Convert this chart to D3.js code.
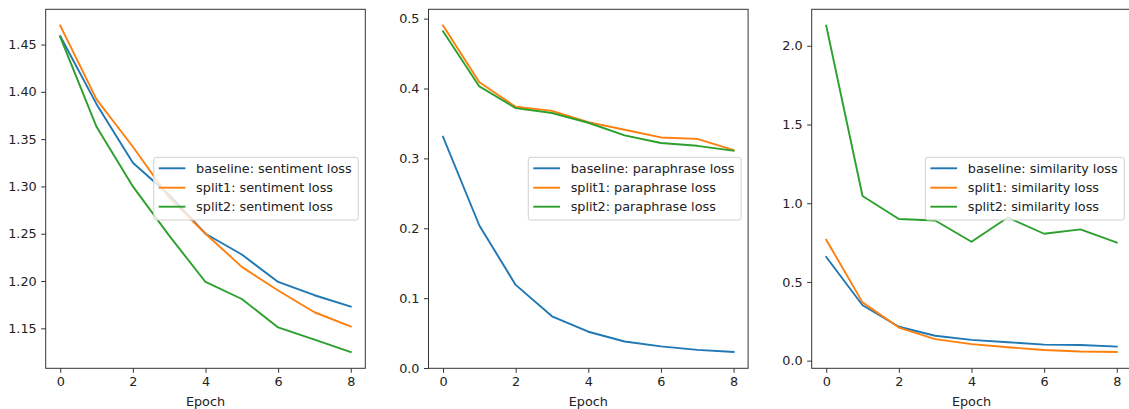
<!DOCTYPE html>
<html>
<head>
<meta charset="utf-8">
<script src="https://cdn.jsdelivr.net/npm/d3@7"></script>
<style>
  body { margin: 0; background: #fff; }
  text { font-family: "DejaVu Sans", sans-serif; }
</style>
</head>
<body>
<script>
// data
var epochs = [0, 1, 2, 3, 4, 5, 6, 7, 8];

var sentBaseline = [1.459, 1.387, 1.325, 1.291, 1.250, 1.228, 1.199, 1.185, 1.173];
var sentSplit1   = [1.470, 1.392, 1.342, 1.288, 1.250, 1.215, 1.190, 1.167, 1.152];
var sentSplit2   = [1.458, 1.363, 1.300, 1.248, 1.199, 1.181, 1.151, 1.138, 1.125];

var paraBaseline = [0.331, 0.204, 0.119, 0.074, 0.052, 0.038, 0.031, 0.026, 0.023];
var paraSplit1   = [0.490, 0.409, 0.374, 0.368, 0.352, 0.341, 0.330, 0.328, 0.312];
var paraSplit2   = [0.482, 0.403, 0.372, 0.365, 0.351, 0.333, 0.322, 0.318, 0.311];

var simBaseline  = [0.658, 0.352, 0.215, 0.158, 0.132, 0.117, 0.102, 0.099, 0.089];
var simSplit1    = [0.768, 0.370, 0.210, 0.137, 0.105, 0.085, 0.068, 0.058, 0.055];
var simSplit2    = [2.128, 1.046, 0.900, 0.890, 0.755, 0.909, 0.806, 0.834, 0.750];

var xTicks = [0, 2, 4, 6, 8];
var sentTicks = ['1.15', '1.20', '1.25', '1.30', '1.35', '1.40', '1.45'];
var paraTicks = ['0.0', '0.1', '0.2', '0.3', '0.4', '0.5'];
var simTicks  = ['0.0', '0.5', '1.0', '1.5', '2.0'];

var seriesNames = ['baseline', 'split1', 'split2'];
var colors = ['#1f77b4', '#ff7f0e', '#2ca02c'];

var panels = [
  {task: 'sentiment', series: [sentBaseline, sentSplit1, sentSplit2], ticks: sentTicks, left: 45.7},
  {task: 'paraphrase', series: [paraBaseline, paraSplit1, paraSplit2], ticks: paraTicks, left: 428.5},
  {task: 'similarity', series: [simBaseline, simSplit1, simSplit2], ticks: simTicks, left: 811.7}
];

var W = 1129, H = 409;
var plotTop = 9.3, plotBottom = 368.3, pw = 319.6;
var fs = 12.8;

var svg = d3.select('body').append('svg').attr('width', W).attr('height', H);

panels.forEach(function(p){
  var g = svg.append('g').attr('transform', 'translate(' + p.left + ',0)');

  var all = [].concat.apply([], p.series);
  var lo = d3.min(all), hi = d3.max(all), pad = (hi - lo) * 0.05;
  var x = d3.scaleLinear().domain([-0.4, 8.4]).range([0, pw]);
  var y = d3.scaleLinear().domain([lo - pad, hi + pad]).range([plotBottom, plotTop]);

  // lines
  var line = d3.line().x(function(d, i){ return x(epochs[i]); }).y(function(d){ return y(d); });
  p.series.forEach(function(s, k){
    g.append('path').datum(s).attr('d', line)
      .attr('fill', 'none').attr('stroke', colors[k]).attr('stroke-width', 1.9)
      .attr('stroke-linejoin', 'round').attr('stroke-linecap', 'square');
  });

  // frame
  g.append('rect').attr('x', 0).attr('y', plotTop).attr('width', pw).attr('height', plotBottom - plotTop)
    .attr('fill', 'none').attr('stroke', '#333').attr('stroke-width', 1);

  // x axis
  var xa = d3.axisBottom(x).tickValues(xTicks).tickSize(4.5).tickPadding(4).tickFormat(d3.format('d'));
  var xg = g.append('g').attr('transform', 'translate(0,' + plotBottom + ')').call(xa);
  xg.select('.domain').remove();

  // y axis
  var ya = d3.axisLeft(y).tickValues(p.ticks.map(Number)).tickSize(4.5).tickPadding(4.5)
    .tickFormat(function(d, i){ return p.ticks[i]; });
  var yg = g.append('g').call(ya);
  yg.select('.domain').remove();

  g.selectAll('.tick line').attr('stroke', '#333');
  g.selectAll('.tick text').attr('fill', '#222').style('font-size', fs + 'px')
    .style('font-family', '"DejaVu Sans", sans-serif');

  g.append('text').attr('x', pw / 2).attr('y', 406).attr('text-anchor', 'middle')
    .attr('fill', '#222').style('font-size', fs + 'px').text('Epoch');

  // legend, center right
  var labels = seriesNames.map(function(n){ return n + ': ' + p.task + ' loss'; });
  var leg = g.append('g');
  var box = leg.append('rect');
  var rows = [168.3, 187.7, 206.7];
  var texts = leg.selectAll('text').data(labels).enter().append('text')
    .attr('y', function(d, i){ return rows[i]; }).attr('dy', '0.35em')
    .attr('fill', '#222').style('font-size', fs + 'px').text(function(d){ return d; });
  var tw = d3.max(texts.nodes(), function(n){ return n.getComputedTextLength(); });
  var bw = 5 + 26.7 + 10.7 + tw + 6.7;
  var bx = pw - 7 - bw;
  box.attr('x', bx).attr('y', 157.3).attr('width', bw).attr('height', 62.7).attr('rx', 2.5)
    .attr('fill', 'rgba(255,255,255,0.8)').attr('stroke', '#d0d0d0').attr('stroke-width', 1);
  texts.attr('x', bx + 5 + 26.7 + 10.7);
  leg.selectAll('line').data(labels).enter().append('line')
    .attr('x1', bx + 5).attr('x2', bx + 5 + 26.7)
    .attr('y1', function(d, i){ return rows[i]; }).attr('y2', function(d, i){ return rows[i]; })
    .attr('stroke', function(d, i){ return colors[i]; }).attr('stroke-width', 1.9);
});
</script>
</body>
</html>
